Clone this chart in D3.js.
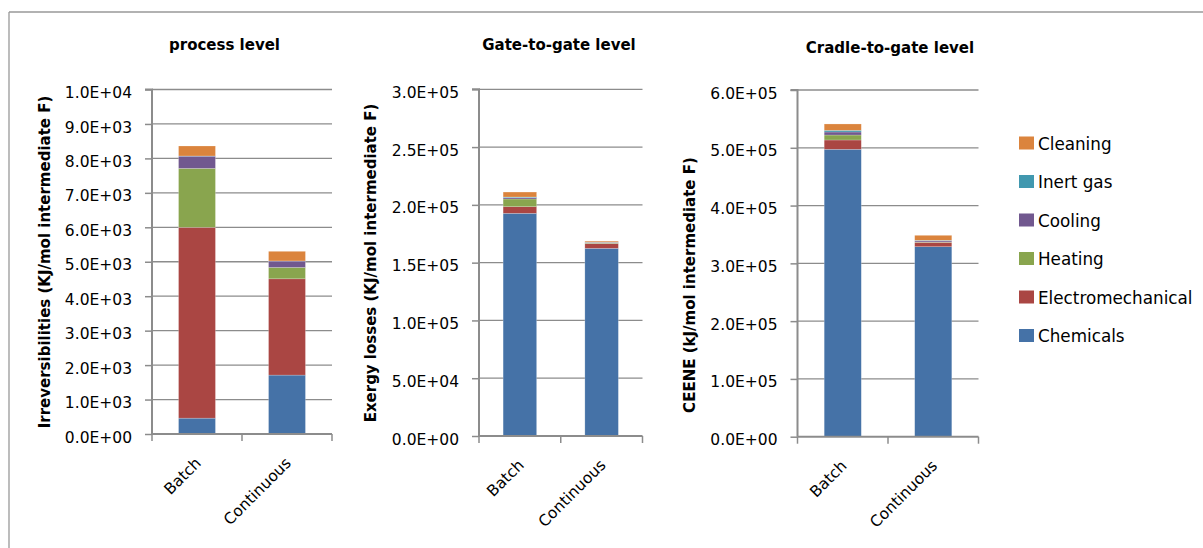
<!DOCTYPE html>
<html>
<head>
<meta charset="utf-8">
<script src="https://cdn.jsdelivr.net/npm/d3@7"></script>
<style>
  html, body { margin: 0; padding: 0; background: #fff; }
  svg { display: block; }
  text { font-family: "DejaVu Sans", sans-serif; fill: #000; }
</style>
</head>
<body>
<svg id="chart" width="1203" height="548"></svg>
<script>
// ---------------- DATA ----------------
const categories = ["Batch", "Continuous"];
const seriesNames = ["Chemicals", "Electromechanical", "Heating", "Cooling", "Inert gas", "Cleaning"];
const seriesColors = ["#4572A7", "#AA4643", "#89A54E", "#71588F", "#4198AF", "#DB843D"];
const panelTitles = ["process level", "Gate-to-gate level", "Cradle-to-gate level"];
const axisTitles = ["Irreversibilities (KJ/mol intermediate F)", "Exergy losses (KJ/mol intermediate F)", "CEENE (kJ/mol intermediate F)"];
const yMax = [1e4, 3e5, 6e5];
const yStep = [1e3, 5e4, 1e5];

// values per series: [Batch, Continuous]
const processChemicals = [460, 1710];
const processElectromechanical = [5540, 2795];
const processHeating = [1710, 330];
const processCooling = [355, 185];
const processInertGas = [5, 3];
const processCleaning = [290, 280];

const gateChemicals = [192700, 162400];
const gateElectromechanical = [5700, 4000];
const gateHeating = [6700, 500];
const gateCooling = [1100, 600];
const gateInertGas = [600, 200];
const gateCleaning = [4300, 900];

const cradleChemicals = [497400, 328800];
const cradleElectromechanical = [16100, 7600];
const cradleHeating = [8600, 600];
const cradleCooling = [5200, 2000];
const cradleInertGas = [2900, 900];
const cradleCleaning = [11000, 8600];

const panelValues = [
  [processChemicals, processElectromechanical, processHeating, processCooling, processInertGas, processCleaning],
  [gateChemicals, gateElectromechanical, gateHeating, gateCooling, gateInertGas, gateCleaning],
  [cradleChemicals, cradleElectromechanical, cradleHeating, cradleCooling, cradleInertGas, cradleCleaning]
];

// ---------------- LAYOUT ----------------
const layouts = [
  { x0: 152,   x1: 332,   yTop: 89.5, yBot: 434,   titleX: 224.5, titleY: 50, axTitleX: 50,  axTitleY: 262 },
  { x0: 479,   x1: 642.5, yTop: 89.3, yBot: 436,   titleX: 559,   titleY: 50, axTitleX: 376, axTitleY: 263 },
  { x0: 797.5, x1: 978.5, yTop: 90,   yBot: 436.7, titleX: 890,   titleY: 53, axTitleX: 695, axTitleY: 285 }
];

const svg = d3.select("#chart");
const gridColor = "#8c8c8c";

// outer frame
svg.append("line").attr("x1", 9).attr("x2", 1203).attr("y1", 12).attr("y2", 12)
  .attr("stroke", "#999").attr("stroke-width", 1.3);
svg.append("line").attr("x1", 9).attr("x2", 9).attr("y1", 12).attr("y2", 548)
  .attr("stroke", "#999").attr("stroke-width", 1.3);

function fmtE(v) {
  if (v === 0) return "0.0E+00";
  const e = Math.floor(Math.log10(Math.abs(v)) + 1e-9);
  const m = v / Math.pow(10, e);
  const sign = e >= 0 ? "+" : "-";
  return m.toFixed(1) + "E" + sign + String(Math.abs(e)).padStart(2, "0");
}

layouts.forEach((L, pi) => {
  const g = svg.append("g");
  const x = d3.scaleBand().domain(categories).range([L.x0, L.x1]).paddingInner(0).paddingOuter(0);
  const y = d3.scaleLinear().domain([0, yMax[pi]]).range([L.yBot, L.yTop]);
  const ticks = d3.range(0, yMax[pi] + yStep[pi] / 2, yStep[pi]);

  // gridlines
  g.append("g").selectAll("line").data(ticks.filter(t => t > 0)).join("line")
    .attr("x1", L.x0).attr("x2", L.x1)
    .attr("y1", d => y(d)).attr("y2", d => y(d))
    .attr("stroke", gridColor).attr("stroke-width", 1.3);

  // stacked bars
  const rows = categories.map((c, ci) => {
    const o = { cat: c };
    seriesNames.forEach((s, si) => { o[s] = panelValues[pi][si][ci]; });
    return o;
  });
  const stacked = d3.stack().keys(seriesNames)(rows);
  const bw = x.bandwidth() * 0.41;
  stacked.forEach((layer, si) => {
    g.append("g").selectAll("rect").data(layer).join("rect")
      .attr("x", d => x(d.data.cat) + (x.bandwidth() - bw) / 2)
      .attr("width", bw)
      .attr("y", d => y(d[1]))
      .attr("height", d => Math.max(0, y(d[0]) - y(d[1])))
      .attr("fill", seriesColors[si])
      .attr("stroke", "rgba(255,255,255,0.35)")
      .attr("stroke-width", 0.6);
  });

  // y axis
  const yAxis = d3.axisLeft(y).tickValues(ticks).tickFormat(fmtE).tickSize(7).tickPadding(13);
  const ya = g.append("g").attr("transform", `translate(${L.x0},0)`).call(yAxis);
  ya.select(".domain").attr("stroke", gridColor).attr("stroke-width", 2).attr("d", `M-7,${L.yTop}H0V${L.yBot}`);
  ya.selectAll(".tick line").attr("stroke", gridColor).attr("stroke-width", 1.5);
  ya.selectAll(".tick text").attr("font-size", "15.5px").attr("font-family", "DejaVu Sans")
    .attr("fill", "#000").attr("dy", "0.52em");

  // x axis
  const xa = g.append("g").attr("transform", `translate(0,${L.yBot})`);
  xa.append("line").attr("x1", L.x0).attr("x2", L.x1).attr("y1", 0).attr("y2", 0)
    .attr("stroke", gridColor).attr("stroke-width", 2);
  const bounds = [L.x0].concat(categories.map(c => x(c) + x.bandwidth()));
  xa.selectAll("line.tk").data(bounds).join("line").attr("class", "tk")
    .attr("x1", d => d).attr("x2", d => d).attr("y1", 0).attr("y2", 7)
    .attr("stroke", gridColor).attr("stroke-width", 1.5);
  xa.selectAll("text").data(categories).join("text")
    .attr("transform", d => `translate(${x(d) + x.bandwidth() / 2 + 5},30) rotate(-45)`)
    .attr("text-anchor", "end")
    .attr("font-size", "15.5px")
    .text(d => d);

  // panel title
  svg.append("text").attr("x", L.titleX).attr("y", L.titleY)
    .attr("text-anchor", "middle").attr("font-weight", "bold").attr("font-size", "15px")
    .text(panelTitles[pi]);

  // axis title
  svg.append("text")
    .attr("transform", `translate(${L.axTitleX},${L.axTitleY}) rotate(-90)`)
    .attr("text-anchor", "middle").attr("font-weight", "bold").attr("font-size", "15px")
    .text(axisTitles[pi]);
});

// legend (reverse order, top = Cleaning)
const legendOrder = seriesNames.map((s, i) => i).reverse();
const lg = svg.append("g");
legendOrder.forEach((si, k) => {
  const cy = 143.5 + k * 38.5;
  lg.append("rect").attr("x", 1019).attr("y", cy - 7).attr("width", 15).attr("height", 13)
    .attr("fill", seriesColors[si]);
  lg.append("text").attr("x", 1038).attr("y", cy + 6.3).attr("font-size", "16.8px")
    .text(seriesNames[si]);
});
</script>
</body>
</html>
